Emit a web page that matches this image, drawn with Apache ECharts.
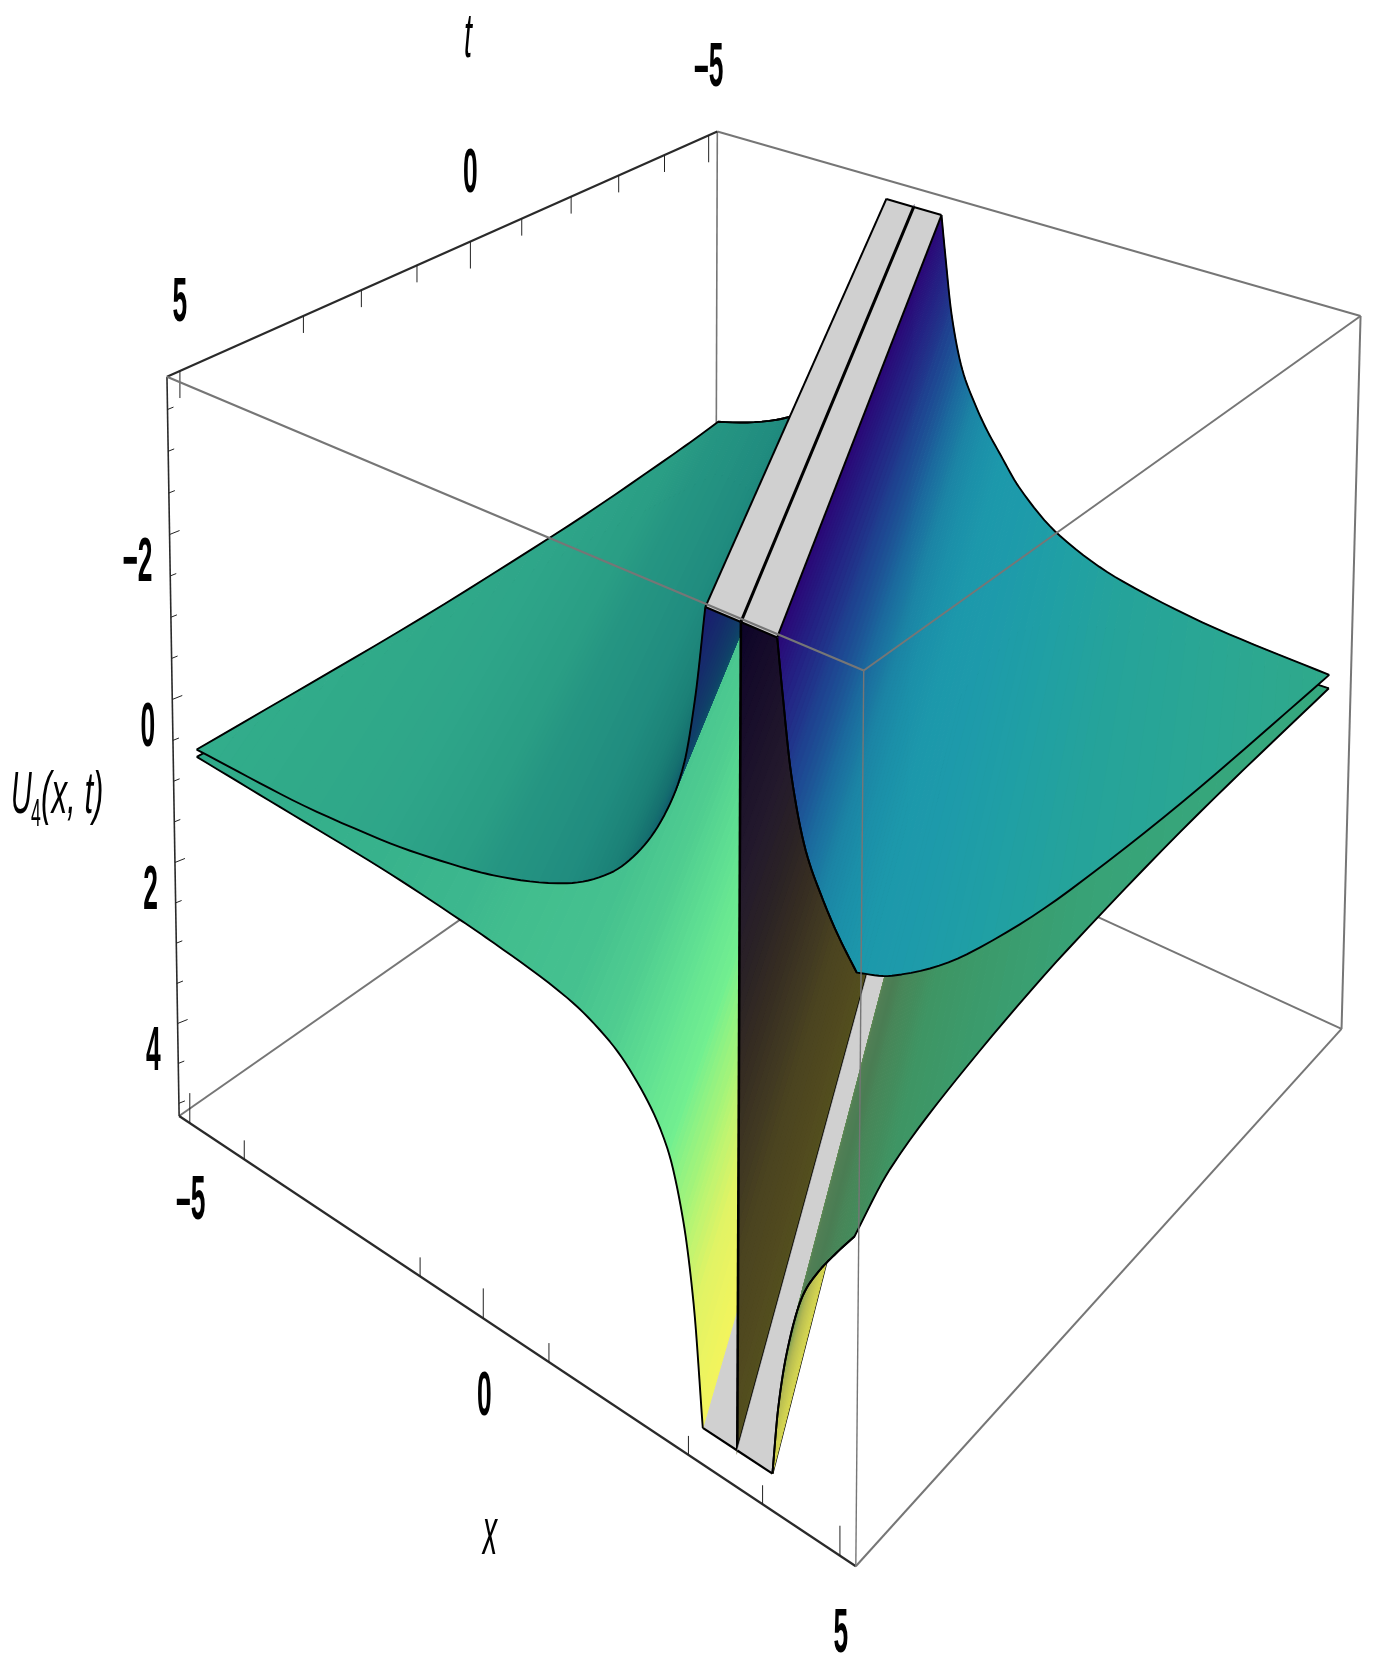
<!DOCTYPE html>
<html><head><meta charset="utf-8">
<style>html,body{margin:0;padding:0;background:#fff}#c{width:1382px;height:1669px}</style>
<script src="https://cdn.jsdelivr.net/npm/echarts@6/dist/echarts.min.js"></script>
</head><body><div id="c"></div>
<script>
// ---------- values ----------
const singularSlope = 0.5, singularOffset = 1.0;   // x of the pole = slope*t + offset
const capTop = -3.72, capBottom = 4.98, capHalfWidth = 0.47;
const tRange = [-5, 5], xRange = [-5, 5];
const boxX = [-5.2, 5.2], boxT = [-5.2, 5.2], boxU = [-3.89, 5.16];

const sLeft = [-8.5,-7,-5.3,-4,-3.5,-2.4,-1.78,-1.34,-0.97,-0.75,-0.6,-0.47];
const uLeftUpper = [0.63,0.62,0.52,0.34,0.24,-0.1,-0.45,-0.88,-1.45,-2.0,-2.75,-3.72];
const uLeftLower = [0.72,0.78,0.85,0.95,1.0,1.16,1.38,1.7,2.18,2.85,3.7,4.98];
const sRight = [0.47,0.54,0.66,0.85,1.05,1.25,1.5,1.8,2.47,3.47,5.07,6.5];
const uRightUpper = [-3.72,-3.2,-2.4,-1.7,-1.32,-1.02,-0.72,-0.38,0.08,0.38,0.55,0.59];
const uRightLower = [4.98,4.25,3.55,2.9,2.55,2.28,1.97,1.62,1.3,1.03,0.83,0.76];
const wallU = [-3.72,-3,-2,-1,0,1,2,3,4,4.98];

const leftUpperColors = ['#32ad8b','#30aa89','#2ea589','#299d84','#259582','#208c7f','#1b8177','#15706f','#0f5a6c','#0f4468','#14306a','#1a1a70'];
const leftLowerColors = ['#2fa98a','#33ae8b','#38b38c','#3db88e','#41bd8e','#45c18f','#50ce90','#60e092','#72ef90','#a8f478','#e0f365','#f5f45c'];
const rightUpperColors = ['#2a0878','#241f82','#1e4290','#1b6a9e','#1b84a5','#1b90a9','#1c98ab','#1d9aab','#1f9fa5','#25a39a','#2ba792','#2fa98a'];
const rightLowerColors = ['#d8d850','#b4ba52','#6f9656','#527f56','#4a7d54','#478658','#438c5c','#3e9564','#3b9b6c','#38a276','#36a67c','#35a87f'];
const wallColors = ['#0c0428','#150a2a','#1c122b','#241a2c','#2a2226','#352c22','#403822','#4b4420','#50491f','#54501e'];
const capColor = '#d0d0d0';

const tTicksMajor = [-5,0,5], tTicksMinor = [-4,-3,-2,-1,1,2,3];
const xTicksMajor = [-5,0,5], xTicksMinor = [-4,-1,1,3,4];
const uTicksMajor = [-2,0,2,4], uTicksMinor = [-3.5,-3,-2.5,-1.5,-1,-0.5,0.5,1,1.5,2.5,3,3.5,4.5,5];
const tTickLabels = ['\u20135','0','5'], xTickLabels = ['\u20135','0','5'], uTickLabels = ['\u22122','0','2','4'];

// ---------- camera: 3x4 projection solved from the box corners seen in the reference ----------
const cornerWorld = [[boxX[0],boxT[0],boxU[0]],[boxX[0],boxT[1],boxU[0]],[boxX[1],boxT[0],boxU[0]],[boxX[1],boxT[1],boxU[0]],
                     [boxX[0],boxT[1],boxU[1]],[boxX[1],boxT[0],boxU[1]],[boxX[1],boxT[1],boxU[1]],[boxX[0],boxT[0],boxU[1]]];
const cornerScreen = [[721,133],[165,375],[1361,317],[860,669],[183,1120],[1343,1030],[857,1565],[710,738]];
function solveCamera(){
  const A=[],b=[];
  cornerWorld.forEach((w,i)=>{const [X,Y,Z]=w,[u,v]=cornerScreen[i];
    A.push([X,Y,Z,1,0,0,0,0,-u*X,-u*Y,-u*Z]);b.push(u);
    A.push([0,0,0,0,X,Y,Z,1,-v*X,-v*Y,-v*Z]);b.push(v);});
  const n=11,M=[];
  for(let i=0;i<n;i++){M.push(new Array(n+1).fill(0));
    for(let j=0;j<n;j++)for(let k=0;k<A.length;k++)M[i][j]+=A[k][i]*A[k][j];
    for(let k=0;k<A.length;k++)M[i][n]+=A[k][i]*b[k];}
  for(let i=0;i<n;i++){let p=i;for(let r=i+1;r<n;r++)if(Math.abs(M[r][i])>Math.abs(M[p][i]))p=r;
    [M[i],M[p]]=[M[p],M[i]];
    for(let r=0;r<n;r++)if(r!==i){const f=M[r][i]/M[i][i];for(let c=i;c<=n;c++)M[r][c]-=f*M[i][c];}}
  return M.map((r,i)=>r[n]/r[i]);
}
const P=solveCamera();
const depth=(x,t,u)=>P[8]*x+P[9]*t+P[10]*u+1;
function project(p){const w=depth(p[0],p[1],p[2]);
  return [(P[0]*p[0]+P[1]*p[1]+P[2]*p[2]+P[3])/w,(P[4]*p[0]+P[5]*p[1]+P[6]*p[2]+P[7])/w];}

// ---------- smooth (monotone) reading of a table between its nodes ----------
function pchip(xs,ys){
  const n=xs.length,h=[],d=[],m=new Array(n);
  for(let i=0;i<n-1;i++){h[i]=xs[i+1]-xs[i];d[i]=(ys[i+1]-ys[i])/h[i];}
  m[0]=d[0];m[n-1]=d[n-2];
  for(let i=1;i<n-1;i++){if(d[i-1]*d[i]<=0)m[i]=0;else{const a=2*h[i]+h[i-1],b=h[i]+2*h[i-1];m[i]=(a+b)/(a/d[i-1]+b/d[i]);}}
  return (i,f)=>{const t=f,h0=h[i];return (1+2*t)*(1-t)*(1-t)*ys[i]+t*(1-t)*(1-t)*h0*m[i]+t*t*(3-2*t)*ys[i+1]+t*t*(t-1)*h0*m[i+1];};
}
const rgb=h=>[1,3,5].map(i=>parseInt(h.substr(i,2),16));
const mix=(a,b,f)=>{const A=rgb(a),B=rgb(b);return 'rgb('+A.map((v,i)=>Math.round(v+(B[i]-v)*f)).join(',')+')';};
const poleX=t=>singularSlope*t+singularOffset;
const tLimit=(s,side)=>side<0
  ?Math.min(tRange[1],Math.max(tRange[0],(xRange[0]-s-singularOffset)/singularSlope))
  :Math.min(tRange[1],Math.max(tRange[0],(xRange[1]-s-singularOffset)/singularSlope));
const pt=(s,t,u)=>[poleX(t)+s,t,u];

function sheetItems(nodes,values,colors,side){
  const f=pchip(nodes,values),samples=[],SUB=8,items=[];
  for(let i=0;i<nodes.length-1;i++)for(let j=0;j<SUB;j++){const q=j/SUB;
    samples.push({s:nodes[i]+(nodes[i+1]-nodes[i])*q,u:f(i,q),c:mix(colors[i],colors[i+1],q)});}
  samples.push({s:nodes[nodes.length-1],u:values[values.length-1],c:colors[colors.length-1]});
  const strips=[];
  for(let i=0;i<samples.length-1;i++){const a=samples[i],b=samples[i+1];
    const lim=x=>tLimit(x.s,side),far=side<0?tRange[1]:tRange[0];
    const c=a.c,pts=[pt(a.s,lim(a),a.u),pt(b.s,lim(b),b.u),pt(b.s,far,b.u),pt(a.s,far,a.u)];
    strips.push({pts,fill:c,stroke:c,lw:1,closed:true,d:depth(poleX(0)+(a.s+b.s)/2,0,(a.u+b.u)/2)});}
  strips.sort((p,q)=>q.d-p.d);
  items.push(...strips);
  // black boundary: the t=5 edge, the t=-5 edge and the x=+-5 edge
  const edge=(fn,keep)=>({pts:samples.filter(keep).map(fn),stroke:'#000',lw:1.9,closed:false});
  items.push(edge(a=>pt(a.s,tRange[1],a.u),a=>side<0||tLimit(a.s,side)>=tRange[1]-1e-9));
  items.push(edge(a=>pt(a.s,tRange[0],a.u),a=>side>0||tLimit(a.s,side)<=tRange[0]+1e-9));
  items.push(edge(a=>pt(a.s,tLimit(a.s,side),a.u),()=>true));
  return items;
}
function capItems(u,side,outline){
  const s0=side*capHalfWidth,out=[];
  out.push({pts:[pt(0,tRange[0],u),pt(s0,tRange[0],u),pt(s0,tRange[1],u),pt(0,tRange[1],u)],fill:capColor,stroke:capColor,lw:.6,closed:true});
  out.push({pts:[pt(0,tRange[1],u),pt(s0,tRange[1],u)],stroke:'#000',lw:2.2,closed:false});
  if(outline)out.push({pts:[pt(0,tRange[0],u),pt(s0,tRange[0],u)],stroke:'#000',lw:2,closed:false},
                      {pts:[pt(s0,tRange[0],u),pt(s0,tRange[1],u)],stroke:'#000',lw:2,closed:false});
  return out;
}
function wallItems(){
  const out=[],SUB=5;
  for(let i=0;i<wallU.length-1;i++)for(let j=0;j<SUB;j++){
    const a=wallU[i]+(wallU[i+1]-wallU[i])*j/SUB,b=wallU[i]+(wallU[i+1]-wallU[i])*(j+1)/SUB,c=mix(wallColors[i],wallColors[i+1],j/SUB);
    out.push({pts:[pt(0,tRange[0],a),pt(0,tRange[0],b),pt(0,tRange[1],b),pt(0,tRange[1],a)],fill:c,stroke:c,lw:1.2,closed:true});}
  return out;
}
const blackLine=(a,b,lw)=>({pts:[a,b],stroke:'#000',lw:lw||2.4,closed:false});
const c3=(i,j,k)=>[boxX[i],boxT[j],boxU[k]];
const boxLine=(a,b,col,lw)=>({pts:[a,b],stroke:col,lw,closed:false});
const gray='#767676',dark='#2a2a2a';

function tickItems(){
  const out=[];
  const add=(p,dx,dy,lw)=>out.push({screenTick:true,a:project(p),dx,dy,stroke:'#222',lw:lw});
  tTicksMajor.forEach(t=>add([boxX[0],t,boxU[0]],0,27,1));
  tTicksMinor.forEach(t=>add([boxX[0],t,boxU[0]],0,17,1));
  xTicksMajor.forEach(x=>add([x,boxT[1],boxU[1]],0,-30,1));
  xTicksMinor.forEach(x=>add([x,boxT[1],boxU[1]],0,-19,1));
  uTicksMajor.forEach(u=>add([boxX[0],boxT[1],u],10,-4,1));
  uTicksMinor.forEach(u=>add([boxX[0],boxT[1],u],6,-2.4,1));
  return out;
}
// ---------- draw list, painted back to front ----------
const layers=[
 { name:'box back', items:[
   boxLine(c3(0,0,0),c3(1,0,0),gray,2), boxLine(c3(1,0,0),c3(1,0,1),gray,2), boxLine(c3(1,0,1),c3(0,0,1),gray,2),
   boxLine(c3(0,1,1),c3(0,0,1),gray,2), boxLine(c3(0,0,0),c3(0,0,1),gray,1.6),
   boxLine(c3(0,0,0),c3(0,1,0),dark,2.2), boxLine(c3(0,1,0),c3(0,1,1),dark,1.6), boxLine(c3(0,1,1),c3(1,1,1),dark,2.2),
   ...tickItems()]},
 { name:'left bottom cap', items:capItems(capBottom,-1,false)},
 { name:'left lower sheet', items:sheetItems(sLeft,uLeftLower,leftLowerColors,-1)},
 { name:'left upper sheet', items:sheetItems(sLeft,uLeftUpper,leftUpperColors,-1)},
 { name:'left top cap', items:capItems(capTop,-1,true)},
 { name:'wall', items:[...wallItems(),blackLine(pt(0,tRange[1],capTop),pt(0,tRange[1],capBottom),2.6),
                       blackLine(pt(0,tRange[0],capBottom),pt(0,tRange[1],capBottom),2.4)]},
 { name:'right bottom cap', items:[...capItems(capBottom,1,false),blackLine(pt(capHalfWidth,tRange[0],capBottom),pt(capHalfWidth,tRange[1],capBottom),2.2)]},
 { name:'right lower sheet', items:sheetItems(sRight,uRightLower,rightLowerColors,1)},
 { name:'right upper sheet', items:sheetItems(sRight,uRightUpper,rightUpperColors,1)},
 { name:'right top cap', items:[...capItems(capTop,1,true),blackLine(pt(0,tRange[0],capTop),pt(0,tRange[1],capTop),3)]},
 { name:'box front', items:[
   boxLine(c3(0,1,0),c3(1,1,0),gray,2.2), boxLine(c3(1,1,0),c3(1,0,0),gray,2),
   boxLine(c3(1,1,0),c3(1,1,1),gray,1.4), boxLine(c3(1,1,1),c3(1,0,1),gray,2)]}
];

// ---------- texts ----------
const numFont='bold 24px "Liberation Sans"', nameFont='italic 25px "Liberation Sans"';
const texts=[];
tTicksMajor.forEach((t,i)=>{const p=project([boxX[0],t,boxU[0]]);texts.push({x:p[0],y:p[1]-67,text:tTickLabels[i],font:numFont,align:'center',sy:2.6,sx:1.1});});
xTicksMajor.forEach((x,i)=>{const p=project([x,boxT[1],boxU[1]]);texts.push({x:p[0]+1,y:p[1]+79,text:xTickLabels[i],font:numFont,align:'center',sy:2.6,sx:1.1});});
uTicksMajor.forEach((u,i)=>{const p=project([boxX[0],boxT[1],u]);texts.push({x:p[0]-17,y:p[1]+29,text:uTickLabels[i],font:numFont,align:'right',sy:2.6,sx:1.1});});
texts.push({x:468,y:40,text:'t',font:nameFont,align:'center',sy:2.5,sx:1.15});
texts.push({x:490,y:1535,text:'x',font:nameFont,align:'center',sy:2.7,sx:1.15});
texts.push({x:11,y:796,text:'U',font:nameFont,align:'left',sy:2.4,sx:1.15});
texts.push({x:31,y:815,text:'4',font:'16px "Liberation Sans"',align:'left',sy:2.4,sx:1.1});
texts.push({x:41,y:796,text:'(x, t)',font:nameFont,align:'left',sy:2.4,sx:1.25});

function renderShape(items){
  return function(params,api){
    const it=items[api.value(0)];
    if(it.screenTick){
      const a=api.coord(it.a),b=api.coord([it.a[0]+it.dx,it.a[1]+it.dy]);
      return {type:'line',silent:true,shape:{x1:a[0],y1:a[1],x2:b[0],y2:b[1]},style:{stroke:it.stroke,lineWidth:it.lw}};
    }
    const pts=it.pts.map(p=>api.coord(project(p)));
    if(it.closed)return {type:'polygon',silent:true,shape:{points:pts},style:{fill:it.fill,stroke:it.stroke,lineWidth:it.lw}};
    return {type:'polyline',silent:true,shape:{points:pts},style:{fill:null,stroke:it.stroke,lineWidth:it.lw,lineJoin:'round'}};
  };
}
const series=layers.map(l=>({type:'custom',name:l.name,coordinateSystem:'cartesian2d',clip:false,silent:true,progressive:0,
  animation:false,data:l.items.map((_,i)=>[i,0]),encode:{x:0,y:1},renderItem:renderShape(l.items)}));
series.push({type:'custom',name:'labels',coordinateSystem:'cartesian2d',clip:false,silent:true,animation:false,progressive:0,
  data:texts.map((_,i)=>[i,0]),encode:{x:0,y:1},
  renderItem(params,api){const t=texts[api.value(0)],c=api.coord([t.x,t.y]);
    return {type:'text',silent:true,x:c[0],y:c[1],scaleX:t.sx||1,scaleY:t.sy,
      style:{text:t.text,font:t.font,fill:'#000',align:t.align,verticalAlign:'middle'}};}});

const chart=echarts.init(document.getElementById('c'),null,{renderer:'canvas'});
chart.setOption({animation:false,backgroundColor:'#fff',tooltip:{show:false},
  grid:{left:0,right:0,top:0,bottom:0},
  xAxis:{type:'value',min:0,max:1382,show:false},
  yAxis:{type:'value',min:0,max:1669,inverse:true,show:false},
  series});
</script></body></html>
